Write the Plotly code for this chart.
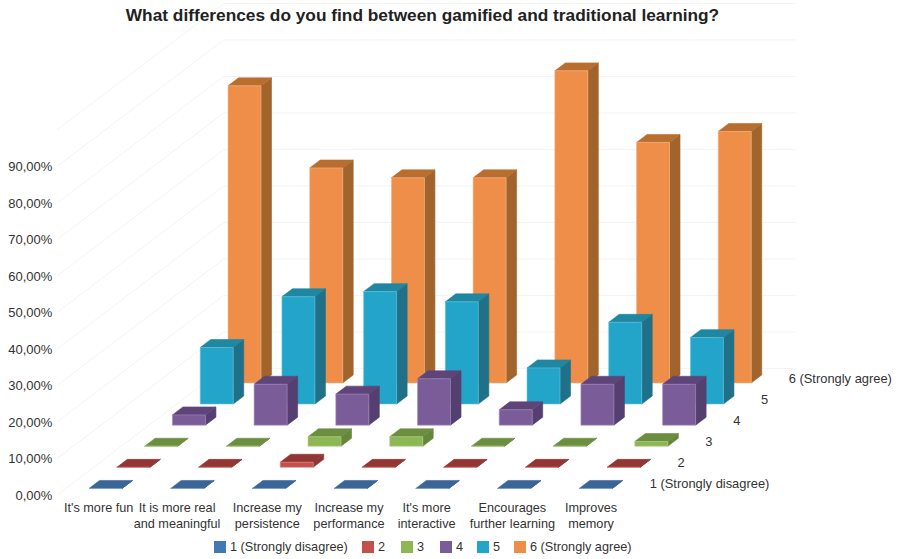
import plotly.graph_objects as go

# ---------- data (percent of responses) ----------
categories = ["It's more fun", "It is more real<br>and meaningful", "Increase my<br>persistence",
              "Increase my<br>performance", "It's more<br>interactive",
              "Encourages<br>further learning", "Improves<br>memory"]
series_names = ["1 (Strongly disagree)", "2", "3", "4", "5", "6 (Strongly agree)"]
depth_labels = ["1 (Strongly disagree)", "2", "3", "4", "5", "6 (Strongly agree)"]
s1 = [0, 0, 0, 0, 0, 0, 0]
s2 = [0, 0, 1.4, 0, 0, 0, 0]
s3 = [0, 0, 2.6, 2.6, 0, 0, 1.3]
s4 = [2.8, 11.2, 8.5, 12.7, 4.2, 11.2, 11.2]
s5 = [15.5, 29.4, 30.8, 28.0, 9.9, 22.4, 18.2]
s6 = [81.4, 58.9, 56.2, 56.2, 85.5, 65.9, 68.9]
values = [s1, s2, s3, s4, s5, s6]
y_ticks = [0, 10, 20, 30, 40, 50, 60, 70, 80, 90]
y_tick_labels = ["0,00%", "10,00%", "20,00%", "30,00%", "40,00%", "50,00%",
                 "60,00%", "70,00%", "80,00%", "90,00%"]
wall_levels = y_ticks + [100]

# ---------- styles ----------
front = ["#4279B5", "#C4504C", "#8DB755", "#7A5C98", "#22A5C8", "#EE8E48"]
side = ["#2F5A8A", "#8F3533", "#64873C", "#553F70", "#1F7089", "#A1642D"]
top = ["#3A6597", "#923633", "#6C8E40", "#5E4579", "#1F87A1", "#B96E30"]
edge = ["#7FA6D0", "#DE8A88", "#B5D48C", "#A78FC0", "#6CC6DE", "#F5B98C"]
text_color = "#333333"
FONT = "Liberation Sans, Arial, sans-serif"

W, H = 898, 559
L, B = 57, 64
CAT_PX, PCT_PX = 81.7, 3.65      # pixels per category, pixels per percent
ROW_DX, ROW_DY = 27.8, 21.1      # oblique shift per depth row, pixels
DX, DY = ROW_DX / CAT_PX, ROW_DY / PCT_PX
BAR_W, BAR_D = 0.404, 0.378
BAR_SHIFT = -0.012
LABEL_NUDGE_PX = [0.8, -2.5, 6, 6, 2, 6, 3]   # category label offsets in the original layout
X_MAX, Y_MAX = (W - L) / CAT_PX, (H - B) / PCT_PX


def proj(c, d, v):
    """Oblique projection of (category, depth row, percent) to axis coordinates."""
    return c + d * DX, v + d * DY


def polys(faces):
    xs, ys = [], []
    for face in faces:
        pts = [proj(*p) for p in face]
        pts.append(pts[0])
        xs += [p[0] for p in pts] + [None]
        ys += [p[1] for p in pts] + [None]
    return xs, ys


fig = go.Figure()

# left wall and back wall gridlines
gx, gy = [], []
n_cats, n_rows = len(categories), len(series_names)
for lev in wall_levels:
    for p in [proj(0, 0, lev), proj(0, n_rows, lev), proj(n_cats, n_rows, lev)]:
        gx.append(p[0]); gy.append(p[1])
    gx.append(None); gy.append(None)
fig.add_trace(go.Scatter(x=gx, y=gy, mode="lines", line=dict(color="#F3F3F3", width=1),
                         hoverinfo="skip", showlegend=False))

# bars, back row first
for r in reversed(range(n_rows)):
    fr, sd, tp = [], [], []
    for c, v in enumerate(values[r]):
        c0 = c + (1 - BAR_W) / 2 + BAR_SHIFT
        c1 = c0 + BAR_W
        d0 = r + (1 - BAR_D) / 2
        d1 = d0 + BAR_D
        fr.append([(c0, d0, 0), (c1, d0, 0), (c1, d0, v), (c0, d0, v)])
        sd.append([(c1, d0, 0), (c1, d1, 0), (c1, d1, v), (c1, d0, v)])
        tp.append([(c0, d0, v), (c1, d0, v), (c1, d1, v), (c0, d1, v)])
    for faces, col, lc in ((sd, side[r], side[r]), (tp, top[r], top[r]), (fr, front[r], edge[r])):
        x, y = polys(faces)
        fig.add_trace(go.Scatter(x=x, y=y, mode="lines", fill="toself", fillcolor=col,
                                 line=dict(color=lc, width=0.6), name=series_names[r],
                                 hoverinfo="name", showlegend=False))

# depth axis labels
dl = [proj(n_cats + 0.095, r + 0.47, 0) for r in range(n_rows)]
fig.add_trace(go.Scatter(x=[p[0] for p in dl], y=[p[1] for p in dl], mode="text", text=depth_labels,
                         textposition="middle right", cliponaxis=False,
                         textfont=dict(family=FONT, size=12.9, color=text_color),
                         hoverinfo="skip", showlegend=False))

# legend row
legend_x = [214, 362, 401, 440, 477, 514]
LEG_Y, SW = 547, 12
shapes, annots = [], []
px = lambda x: (x - L) / (W - L)
py = lambda y: 1 - y / (H - B)
for name, col, x in zip(series_names, front, legend_x):
    shapes.append(dict(type="rect", xref="paper", yref="paper", x0=px(x), x1=px(x + SW),
                       y0=py(LEG_Y + SW / 2), y1=py(LEG_Y - SW / 2),
                       fillcolor=col, line=dict(width=0)))
    annots.append(dict(xref="paper", yref="paper", x=px(x + SW + 2.5), y=py(LEG_Y - 0.5), text=name,
                       showarrow=False, xanchor="left", yanchor="middle", xshift=0,
                       borderpad=0, font=dict(family=FONT, size=12.7, color=text_color)))

fig.update_layout(
    width=W, height=H, autosize=False,
    margin=dict(l=L, r=0, t=0, b=B, pad=0),
    paper_bgcolor="white", plot_bgcolor="white", showlegend=False,
    title=dict(text="<b>What differences do you find between gamified and traditional learning?</b>",
               xref="container", yref="container", x=422.5 / W, y=1 - 14.5 / H,
               xanchor="center", yanchor="middle",
               font=dict(family=FONT, size=17.3, color="#222222")),
    xaxis=dict(range=[0, X_MAX], automargin=False, tickangle=0,
               tickvals=[i + 0.5 + n / CAT_PX for i, n in enumerate(LABEL_NUDGE_PX)],
               ticktext=categories,
               showgrid=False, zeroline=False, showline=False, ticks="outside", ticklen=0.5,
               tickcolor="rgba(0,0,0,0)", tickfont=dict(family=FONT, size=12.7, color=text_color)),
    yaxis=dict(range=[0, Y_MAX], automargin=False, tickvals=y_ticks, ticktext=y_tick_labels,
               showgrid=False, zeroline=False, showline=False, ticks="outside", ticklen=1,
               tickcolor="rgba(0,0,0,0)",
               tickfont=dict(family=FONT, size=13, color=text_color)),
    shapes=shapes, annotations=annots,
)

fig.write_html("out.html", config={"displayModeBar": False},
               post_script="document.body.style.margin='0';document.body.style.overflow='hidden';")
